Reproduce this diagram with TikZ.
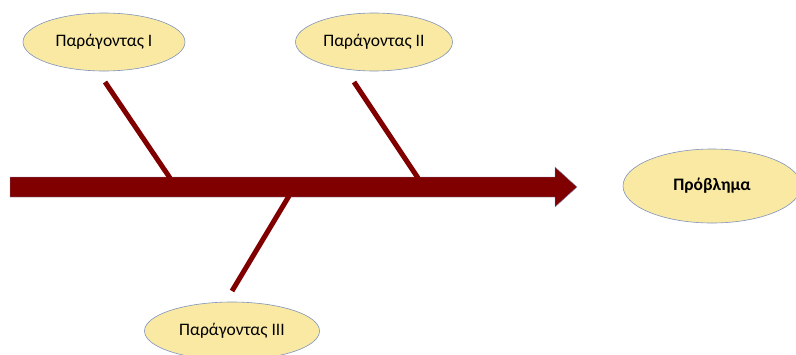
\documentclass[tikz,border=0pt]{standalone}
\usepackage{fontspec}
\setmainfont{Carlito}
\usetikzlibrary{shapes.geometric}
\definecolor{ellfill}{HTML}{F9E9A2}
\definecolor{elldraw}{HTML}{7F93BD}
\definecolor{bone}{HTML}{800000}
\begin{document}
\begin{tikzpicture}[x=1pt,y=-1pt,
  cause/.style={ellipse, draw=elldraw, fill=ellfill, line width=0.6pt, minimum width=162pt, minimum height=58pt, inner sep=0pt, font=\fontsize{17.5}{20}\selectfont},
  bonestyle/.style={draw=bone, line width=5pt}]
\useasboundingbox (0,0) rectangle (796,354);
\node[cause] (f1) at (104,42) {Παράγοντας I};
\node[cause, minimum width=157pt] (f2) at (374,42) {Παράγοντας II};
\node[cause, minimum width=175pt] (f3) at (232,331) {Παράγοντας III};
\node[cause, minimum width=178pt, minimum height=74pt, font=\fontsize{17.5}{20}\selectfont\bfseries] (p) at (712,186) {Πρόβλημα};
\fill[bone, draw=elldraw, line width=0.4pt] (10,177) -- (555,177) -- (555,167) -- (577,187) -- (555,207) -- (555,197) -- (10,197) -- cycle;
\coordinate (b1s) at (105,82); \coordinate (b1e) at (170,178);
\coordinate (b2s) at (354,82); \coordinate (b2e) at (418,178);
\coordinate (b3s) at (289,196); \coordinate (b3e) at (232,291);
\draw[bonestyle] (b1s) -- (b1e);
\draw[bonestyle] (b2s) -- (b2e);
\draw[bonestyle] (b3s) -- (b3e);
\end{tikzpicture}
\end{document}
